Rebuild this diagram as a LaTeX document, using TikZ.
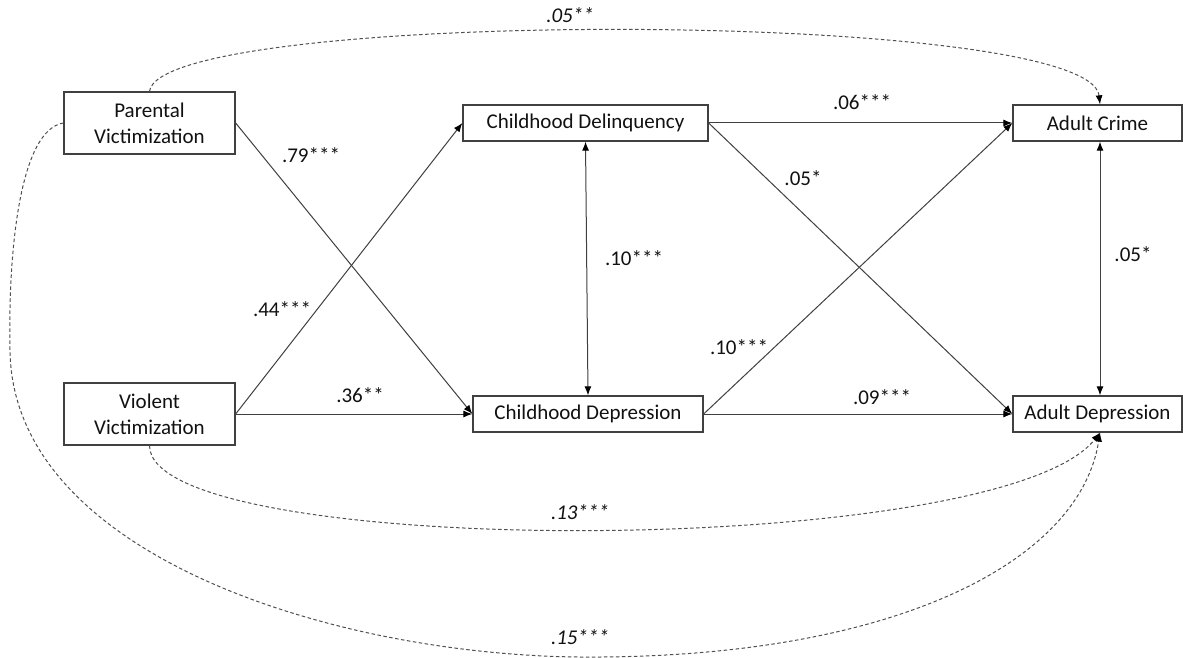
\documentclass[tikz,border=0pt]{standalone}
\usepackage{fontspec}
\setmainfont{Carlito}
\usetikzlibrary{arrows.meta}
\definecolor{linegray}{HTML}{404040}
\definecolor{dashgray}{HTML}{505050}
\definecolor{txt}{HTML}{111111}
\begin{document}
\begin{tikzpicture}[x=1pt,y=-1pt,
  every node/.style={font=\fontsize{21}{26}\selectfont, text=txt},
  box/.style={draw=linegray, line width=1.3pt, fill=white, inner sep=0pt, align=center},
  tip/.style={},
  path/.style={draw=linegray, line width=1pt, -{Latex[length=9pt,width=7pt,color=black]}},
  cov/.style={draw=linegray, line width=1pt, {Latex[length=9pt,width=7pt,color=black]}-{Latex[length=9pt,width=7pt,color=black]}},
  dpath/.style={draw=dashgray, line width=1pt, dash pattern=on 3.5pt off 2.5pt, -{Latex[length=9pt,width=7pt,color=black]}},
  lbl/.style={inner sep=0pt},
  ilbl/.style={inner sep=0pt, font=\fontsize{21}{26}\selectfont\itshape}]
\useasboundingbox (0,0) rectangle (1183,658);
\fill[white] (0,0) rectangle (1183,658);

% boxes
\node[box, minimum width=171pt, minimum height=62pt] (PV) at (149.5,123) {Parental\\Victimization};
\node[box, minimum width=171pt, minimum height=62pt] (VV) at (149.5,414) {Violent\\Victimization};
\node[box, minimum width=245pt, minimum height=36pt] (CDel) at (585.5,123) {Childhood Delinquency};
\node[box, minimum width=230pt, minimum height=36pt] (CDep) at (588,414) {Childhood Depression};
\node[box, minimum width=169pt, minimum height=36pt] (AC) at (1097.5,123) {Adult Crime};
\node[box, minimum width=169pt, minimum height=36pt] (AD) at (1097.5,414) {Adult Depression};

% solid paths
\draw[path] (PV.east) -- (CDep.west);
\draw[path] (VV.east) -- (CDel.west);
\draw[path] (VV.east) -- (CDep.west);
\draw[path] (CDel.east) -- (AC.west);
\draw[path] (CDel.east) -- (AD.west);
\draw[path] (CDep.east) -- (AC.west);
\draw[path] (CDep.east) -- (AD.west);
\draw[cov] (CDel.south) -- (CDep.north);
\draw[cov] ([xshift=2.5pt]AC.south) -- ([xshift=2.5pt]AD.north);

% dashed paths
\draw[dpath] (PV.north) .. controls (160,8) and (1090,8) .. ([xshift=2.5pt]AC.north);
\draw[dpath] (VV.south) .. controls (150,560) and (1000,560) .. ([xshift=2.5pt]AD.south);
\draw[dpath] (PV.west) .. controls (20,130) and (8,250) .. (10,350)
  .. controls (12,560) and (350,660) .. (600,657)
  .. controls (900,655) and (1080,560) .. ([xshift=2.5pt]AD.south);

% labels
\node[lbl] (l79) at (311,155) {.79***};
\node[lbl] (l44) at (282,309) {.44***};
\node[lbl] (l36) at (360,395) {.36**};
\node[lbl] (l10a) at (634,258) {.10***};
\node[lbl] (l10b) at (739,347) {.10***};
\node[lbl] (l06) at (862,102) {.06***};
\node[lbl] (l05a) at (803,178) {.05*};
\node[lbl] (l09) at (882,397) {.09***};
\node[lbl] (l05b) at (1133,254) {.05*};
\node[ilbl] (l05c) at (570,15) {.05**};
\node[ilbl] (l13) at (580,512) {.13***};
\node[ilbl] (l15) at (580,637) {.15***};
\end{tikzpicture}
\end{document}
